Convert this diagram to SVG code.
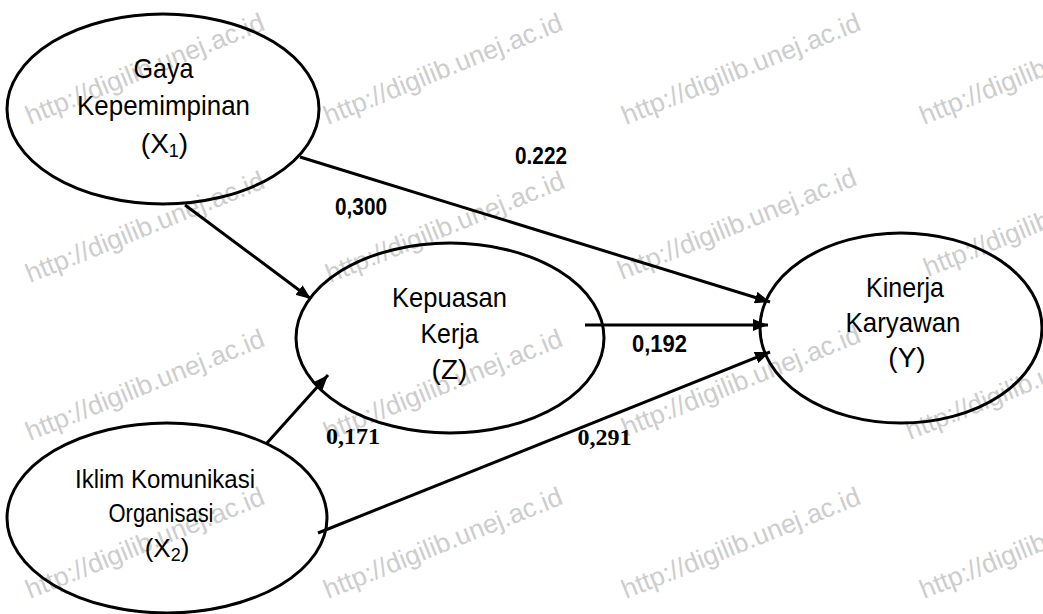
<svg xmlns="http://www.w3.org/2000/svg" xmlns:xlink="http://www.w3.org/1999/xlink" width="1043" height="614" viewBox="0 0 1043 614">
<style>
.node{fill:none;stroke:#000;stroke-width:3}
.lbl{font-family:"Liberation Sans",Arial,sans-serif;font-size:28px;fill:#000;text-anchor:middle}
.lbl2{font-family:"Liberation Sans",Arial,sans-serif;font-size:26px;fill:#000;text-anchor:middle}
.sub{font-size:18px}
.coef{font-family:"Liberation Sans",Arial,sans-serif;font-weight:bold;font-size:23px;fill:#000;text-anchor:middle}
.coefs{font-family:"Liberation Serif","Times New Roman",serif;font-weight:bold;font-size:24px;fill:#000;text-anchor:middle}
.wm{font-family:"Liberation Sans",Arial,sans-serif;font-size:26.5px;fill:#cdcdcd}
.edge{stroke:#000;stroke-width:3;fill:none;marker-end:url(#arr)}
</style>
<defs>
<marker id="arr" markerUnits="userSpaceOnUse" markerWidth="15" markerHeight="12" refX="15" refY="6" orient="auto">
<path d="M0,0 L15,6 L0,12 z" fill="#000"/>
</marker>
<text id="wmt" class="wm">http://digilib.unej.ac.id</text>
</defs>
<rect width="1043" height="614" fill="#fff"/>
<g id="watermark">
<use xlink:href="#wmt" transform="translate(30,125) rotate(-22)"/>
<use xlink:href="#wmt" transform="translate(328,125) rotate(-22)"/>
<use xlink:href="#wmt" transform="translate(626,125) rotate(-22)"/>
<use xlink:href="#wmt" transform="translate(924,125) rotate(-22)"/>
<use xlink:href="#wmt" transform="translate(30,283) rotate(-22)"/>
<use xlink:href="#wmt" transform="translate(330,283) rotate(-22)"/>
<use xlink:href="#wmt" transform="translate(622,280) rotate(-22)"/>
<use xlink:href="#wmt" transform="translate(928,277) rotate(-22)"/>
<use xlink:href="#wmt" transform="translate(30,441) rotate(-22)"/>
<use xlink:href="#wmt" transform="translate(328,441) rotate(-22)"/>
<use xlink:href="#wmt" transform="translate(626,437) rotate(-22)"/>
<use xlink:href="#wmt" transform="translate(910,440) rotate(-22)"/>
<use xlink:href="#wmt" transform="translate(30,599) rotate(-22)"/>
<use xlink:href="#wmt" transform="translate(328,599) rotate(-22)"/>
<use xlink:href="#wmt" transform="translate(626,599) rotate(-22)"/>
<use xlink:href="#wmt" transform="translate(924,599) rotate(-22)"/>
</g>
<g id="connectors">
<path class="edge" d="M185,205 L311,299"/>
<path class="edge" d="M300,157 L770,302"/>
<path class="edge" d="M585,325 L768,325"/>
<path class="edge" d="M267,443 L328,375"/>
<path class="edge" d="M318,533 L770,352"/>
<text class="coef" x="541" y="164" textLength="52" lengthAdjust="spacingAndGlyphs">0.222</text>
<text class="coef" x="361" y="215" textLength="52" lengthAdjust="spacingAndGlyphs">0,300</text>
<text class="coef" x="659.5" y="352" textLength="55" lengthAdjust="spacingAndGlyphs">0,192</text>
<text class="coefs" x="353" y="444">0,171</text>
<text class="coefs" x="604.5" y="445">0,291</text>
</g>
<g id="x1">
<ellipse class="node" cx="163" cy="109" rx="156" ry="95"/>
<text class="lbl" x="163.5" y="78" textLength="60" lengthAdjust="spacingAndGlyphs">Gaya</text>
<text class="lbl" x="163.5" y="115" textLength="173" lengthAdjust="spacingAndGlyphs">Kepemimpinan</text>
<text class="lbl" x="164.5" y="153">(X<tspan class="sub" dy="4">1</tspan><tspan dy="-4">)</tspan></text>
</g>
<g id="z">
<ellipse class="node" cx="450" cy="338" rx="154" ry="95"/>
<text class="lbl" x="449.5" y="307" textLength="115" lengthAdjust="spacingAndGlyphs">Kepuasan</text>
<text class="lbl" x="449.5" y="343" textLength="58" lengthAdjust="spacingAndGlyphs">Kerja</text>
<text class="lbl" x="449.5" y="379">(Z)</text>
</g>
<g id="y">
<ellipse class="node" cx="901" cy="328" rx="141" ry="95"/>
<text class="lbl" x="905" y="297" textLength="78" lengthAdjust="spacingAndGlyphs">Kinerja</text>
<text class="lbl" x="903" y="332" textLength="115" lengthAdjust="spacingAndGlyphs">Karyawan</text>
<text class="lbl" x="907" y="367">(Y)</text>
</g>
<g id="x2">
<ellipse class="node" cx="167" cy="518" rx="160" ry="95"/>
<text class="lbl2" x="165" y="488" textLength="180" lengthAdjust="spacingAndGlyphs">Iklim Komunikasi</text>
<text class="lbl2" x="161" y="522" textLength="105" lengthAdjust="spacingAndGlyphs">Organisasi</text>
<text class="lbl2" x="167" y="557">(X<tspan class="sub" dy="4">2</tspan><tspan dy="-4">)</tspan></text>
</g>
</svg>
